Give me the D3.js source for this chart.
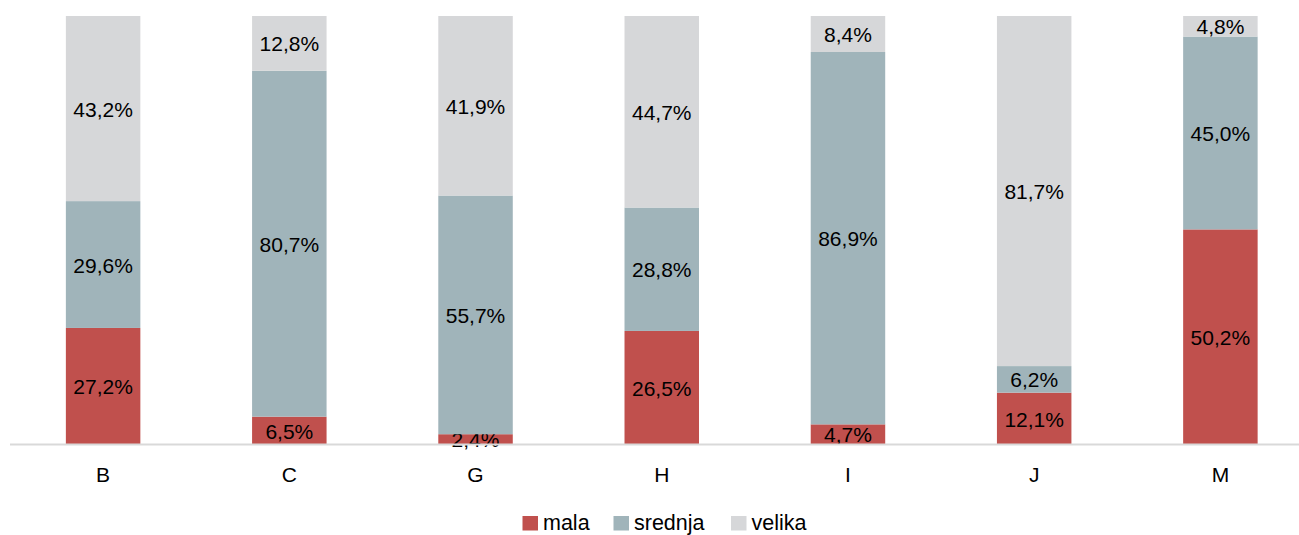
<!DOCTYPE html>
<html>
<head>
<meta charset="utf-8">
<script src="https://cdn.jsdelivr.net/npm/d3@7"></script>
<style>
  html, body { margin: 0; padding: 0; background: #fff; }
  svg { display: block; font-family: "Liberation Sans", Arial, sans-serif; }
</style>
</head>
<body>
<svg id="chart" width="1299" height="535"></svg>
<script>
const categories = ["B", "C", "G", "H", "I", "J", "M"];
const seriesNames = ["mala", "srednja", "velika"];
const mala    = [27.2, 6.5, 2.4, 26.5, 4.7, 12.1, 50.2];
const srednja = [29.6, 80.7, 55.7, 28.8, 86.9, 6.2, 45.0];
const velika  = [43.2, 12.8, 41.9, 44.7, 8.4, 81.7, 4.8];
const colors  = ["#C0504D", "#A0B4BA", "#D6D7D9"];

const svg = d3.select("#chart");
const W = 1299, H = 535;

const x = d3.scaleBand().domain(categories).range([10, 1313.5]).paddingInner(0.6).paddingOuter(0.3);
const y = d3.scaleLinear().domain([0, 100]).range([444.5, 16]);

const rows = categories.map((c, i) => ({ cat: c, mala: mala[i], srednja: srednja[i], velika: velika[i] }));
const stacked = d3.stack().keys(seriesNames)(rows);

const g = svg.append("g");
stacked.forEach((layer, si) => {
  const lg = g.append("g");
  lg.selectAll("rect").data(layer).join("rect")
    .attr("x", d => x(d.data.cat))
    .attr("width", x.bandwidth())
    .attr("y", d => y(d[1]))
    .attr("height", d => y(d[0]) - y(d[1]))
    .attr("fill", colors[si]);
  lg.selectAll("text").data(layer).join("text")
    .attr("x", d => x(d.data.cat) + x.bandwidth() / 2)
    .attr("y", d => (y(d[0]) + y(d[1])) / 2 + 8)
    .attr("text-anchor", "middle")
    .attr("font-size", "21px")
    .attr("fill", "#000")
    .text(d => d3.format(".1f")(d[1] - d[0]).replace(".", ",") + "%");
});

// axis
const xAxis = svg.append("g").attr("transform", `translate(0,${y(0)})`)
  .call(d3.axisBottom(x).tickSize(0).tickPadding(22.5));
xAxis.select(".domain").attr("stroke", "#D9D9D9").attr("stroke-width", 1.8)
  .attr("d", `M10,0H${W}`);
xAxis.selectAll("text").attr("font-size", "21px").attr("fill", "#000")
  .attr("font-family", "Liberation Sans, Arial, sans-serif");

// legend
const legendX = [522.5, 613.5, 731];
const leg = svg.append("g");
seriesNames.forEach((s, i) => {
  leg.append("rect").attr("x", legendX[i]).attr("y", 516).attr("width", 15.5).attr("height", 14.5)
    .attr("fill", colors[i]);
  leg.append("text").attr("x", legendX[i] + 20.5).attr("y", 530.3)
    .attr("font-size", "21.5px").attr("fill", "#000")
    .text(s);
});
</script>
</body>
</html>
